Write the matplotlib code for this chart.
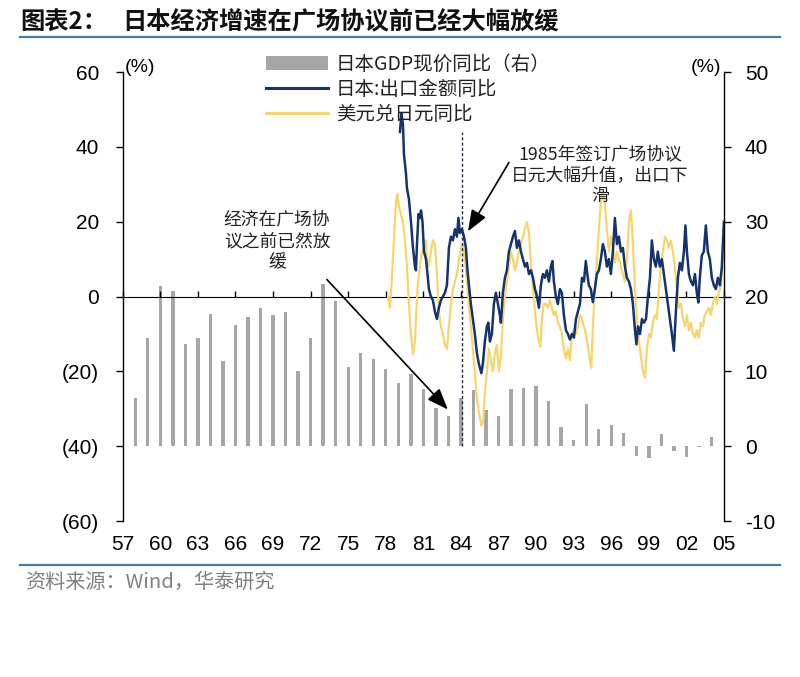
import matplotlib
matplotlib.use('Agg')
import matplotlib.pyplot as plt
from matplotlib.patches import Patch
from matplotlib.lines import Line2D
import matplotlib.ticker as mticker

plt.rcParams['font.family'] = ['Liberation Sans', 'Noto Sans CJK SC', 'DejaVu Sans']
CJK = ['Noto Sans CJK SC', 'DejaVu Sans']

# ---- data ----
gdp_years = list(range(1958, 2005))
gdp_yoy = [6.4, 14.4, 21.4, 20.8, 13.6, 14.5, 17.7, 11.4, 16.2, 17.2,
           18.4, 17.5, 17.9, 10.1, 14.5, 21.7, 19.4, 10.6, 12.4, 11.6,
           10.3, 8.5, 9.7, 7.6, 5.1, 4.1, 6.4, 7.5, 4.8, 4.1,
           7.6, 7.8, 8.0, 6.1, 2.6, 0.8, 5.7, 2.3, 2.8, 1.7,
           -1.3, -1.6, 1.6, -0.7, -1.4, -0.1, 1.2]

export_t = [1979.13, 1979.25, 1979.37, 1979.45, 1979.61, 1979.69, 1979.85, 1980.01, 1980.17, 1980.33,
            1980.41, 1980.49, 1980.61, 1980.73, 1980.81, 1980.93, 1981.05, 1981.21, 1981.33, 1981.44,
            1981.60, 1981.76, 1981.92, 1982.08, 1982.24, 1982.40, 1982.56, 1982.72, 1982.88, 1983.04,
            1983.20, 1983.36, 1983.52, 1983.68, 1983.80, 1983.92, 1984.08, 1984.24, 1984.40, 1984.52,
            1984.64, 1984.79, 1984.95, 1985.11, 1985.27, 1985.43, 1985.63, 1985.75, 1985.91, 1986.07,
            1986.19, 1986.31, 1986.47, 1986.63, 1986.79, 1986.95, 1987.11, 1987.19, 1987.35, 1987.51,
            1987.67, 1987.83, 1987.99, 1988.15, 1988.31, 1988.47, 1988.63, 1988.79, 1988.95, 1989.11,
            1989.27, 1989.43, 1989.59, 1989.75, 1989.91, 1990.07, 1990.23, 1990.38, 1990.54, 1990.70,
            1990.86, 1991.02, 1991.18, 1991.30, 1991.42, 1991.58, 1991.74, 1991.90, 1992.06, 1992.22,
            1992.38, 1992.54, 1992.70, 1992.86, 1993.02, 1993.18, 1993.34, 1993.50, 1993.66, 1993.82,
            1993.97, 1994.09, 1994.21, 1994.37, 1994.53, 1994.69, 1994.85, 1995.01, 1995.17, 1995.33,
            1995.49, 1995.65, 1995.81, 1995.97, 1996.13, 1996.29, 1996.45, 1996.61, 1996.77, 1996.93,
            1997.09, 1997.25, 1997.41, 1997.57, 1997.73, 1997.89, 1998.01, 1998.13, 1998.29, 1998.45,
            1998.61, 1998.77, 1998.93, 1999.09, 1999.24, 1999.40, 1999.56, 1999.72, 1999.88, 2000.04,
            2000.20, 2000.36, 2000.52, 2000.68, 2000.84, 2001.00, 2001.16, 2001.32, 2001.48, 2001.64,
            2001.80, 2001.92, 2002.04, 2002.20, 2002.36, 2002.52, 2002.68, 2002.83, 2002.95, 2003.07,
            2003.23, 2003.39, 2003.55, 2003.71, 2003.87, 2004.03, 2004.19, 2004.35, 2004.51, 2004.67,
            2004.83, 2004.99]
export_yoy = [44, 49, 46, 38, 33, 29, 26, 20, 13, 8,
              7, 14, 22, 21, 23, 20, 12, 10, 6, 2,
              0, -1, -4, -6, -3, -1, 0, 1, 3, 13,
              16, 15, 18, 16, 21, 17, 18, 16, 13, 7,
              3, -2, -6, -10, -15, -18, -20.5, -18, -12, -8,
              -7, -12, -10, -2, 1, -2, -5, -7, 1, 5,
              7, 12, 14, 16, 17.5, 13, 15, 12, 10, 8,
              9, 6, 7, 5, 2, 0, -3, 3, 6, 5,
              7, 4, 8, 9.5, 4, 0, -2, 2, 1, -5,
              -9, -10, -11.5, -10, -11, -6, -4, -2, 5, 4,
              9.5, 6, 3, 2, -1.5, 2, 6, 7, 10, 14,
              12, 8, 10, 6, 12, 21, 14, 16, 12, 13,
              8, 5, 4, 2, -2, -9, -12.8, -8, -10, -6,
              -7, -6, 0, 5, 15, 10, 8, 12, 8, 10,
              6, 2, -2, -6, -10, -14.5, -4, 5, 9, 7,
              12, 19, 12, 6, 4, 3, 6, 1, -1.6, 5,
              11, 12, 19, 12, 10, 5, 3, 2, 5, 3,
              8, 20]

usdjpy_t = [1978.17, 1978.33, 1978.49, 1978.65, 1978.81, 1978.93, 1979.05, 1979.21, 1979.37, 1979.53,
            1979.69, 1979.85, 1980.01, 1980.17, 1980.33, 1980.45, 1980.57, 1980.73, 1980.89, 1981.05,
            1981.17, 1981.29, 1981.44, 1981.60, 1981.76, 1981.92, 1982.08, 1982.24, 1982.40, 1982.56,
            1982.72, 1982.88, 1983.04, 1983.20, 1983.36, 1983.52, 1983.68, 1983.84, 1984.00, 1984.16,
            1984.32, 1984.48, 1984.64, 1984.79, 1984.95, 1985.11, 1985.27, 1985.43, 1985.63, 1985.79,
            1985.91, 1986.07, 1986.23, 1986.39, 1986.55, 1986.71, 1986.87, 1987.03, 1987.19, 1987.35,
            1987.51, 1987.67, 1987.83, 1987.99, 1988.15, 1988.31, 1988.47, 1988.63, 1988.79, 1988.95,
            1989.11, 1989.27, 1989.43, 1989.59, 1989.75, 1989.91, 1990.07, 1990.23, 1990.35, 1990.46,
            1990.62, 1990.78, 1990.94, 1991.10, 1991.26, 1991.42, 1991.58, 1991.74, 1991.90, 1992.06,
            1992.22, 1992.38, 1992.54, 1992.70, 1992.86, 1993.02, 1993.18, 1993.34, 1993.50, 1993.66,
            1993.82, 1993.97, 1994.13, 1994.29, 1994.41, 1994.53, 1994.69, 1994.85, 1995.01, 1995.17,
            1995.33, 1995.49, 1995.65, 1995.81, 1995.97, 1996.13, 1996.29, 1996.45, 1996.61, 1996.77,
            1996.93, 1997.09, 1997.25, 1997.41, 1997.57, 1997.73, 1997.89, 1998.05, 1998.21, 1998.37,
            1998.53, 1998.69, 1998.85, 1999.01, 1999.16, 1999.32, 1999.48, 1999.64, 1999.80, 1999.96,
            2000.12, 2000.28, 2000.44, 2000.60, 2000.76, 2000.92, 2001.08, 2001.24, 2001.40, 2001.56,
            2001.72, 2001.88, 2002.04, 2002.20, 2002.36, 2002.52, 2002.68, 2002.83, 2002.99, 2003.15,
            2003.31, 2003.47, 2003.63, 2003.79, 2003.95, 2004.11, 2004.27, 2004.43, 2004.59, 2004.75,
            2004.91, 2005.00]
usdjpy_yoy = [0, -3, 5, 15, 25, 27.5, 24, 22, 20, 15,
              8, -2, -10, -15.5, -12, -3, 4, 8, 12, 13,
              15, 10, 8, 12, 15, 14, 6, -4, -8, -10,
              -13, -14, -8, -2, 2, 4, 6, 10, 13, 14,
              10, 4, -2, -8, -14, -20, -27, -31, -34.5, -33,
              -26, -20, -14, -17, -20, -15, -13, -20, -16, -6,
              0, 4, 8, 12, 10, 7, 9, 12, 14, 16,
              18, 20, 17, 9, 2, -4, -9, -12, -13.4, -6,
              -2, -2, -3, -1, -3, -5, -4, -7, -8, -10,
              -14, -16.5, -14, -17, -10, -9, -10, -8, -5, -6,
              -8, -10, -13, -17, -19, -8, 2, 9, 18, 25,
              28, 25, 18, 12, 16, 13, 9, 12, 10, 8,
              6, 4, 10, 20, 23, 14, 2, -6, -12, -16,
              -20, -21.7, -14, -10, -11, -7, -5, -6, 2, 8,
              12, 16, 15, 13, 15, 12, 8, 2, -3, -2,
              -6, -8, -5, -9, -7, -10, -11, -9, -11, -7,
              -8, -5, -4, -3, -5, -2, 0, -2, 1, 3,
              10, 14]

x_ticks = list(range(1957, 2006, 3))
x_labels = [f"{y % 100:02d}" for y in x_ticks]
left_ticks = [-60, -40, -20, 0, 20, 40, 60]
right_ticks = [-10, 0, 10, 20, 30, 40, 50]

legend_labels = ['日本GDP现价同比（右）', '日本:出口金额同比', '美元兑日元同比']
title_prefix = '图表2：'
title_main = '日本经济增速在广场协议前已经大幅放缓'
note_left = '经济在广场协\n议之前已然放\n缓'
note_right = '1985年签订广场协议\n日元大幅升值，出口下\n滑'
source = '资料来源：Wind，华泰研究'

C_GDP = '#a6a6a6'
C_EXP = '#15336e'
C_USD = '#f6d56f'
C_RULE = '#4a7aa3'

# ---- figure ----
fig = plt.figure(figsize=(8, 6.77), dpi=100)
ax = fig.add_axes([0.1534, 0.2304, 0.7516, 0.6632])
ax2 = ax.twinx()
ax.set_zorder(ax2.get_zorder() + 1)
ax.patch.set_visible(False)

ax2.bar(gdp_years, gdp_yoy, width=0.27, color=C_GDP, zorder=2)
ax2.set_ylim(-10, 50)

ax.plot(usdjpy_t, usdjpy_yoy, color=C_USD, lw=1.6, zorder=3)
ax.plot(export_t, export_yoy, color=C_EXP, lw=1.8, zorder=4)
ax.set_xlim(1957, 2005)
ax.set_ylim(-60, 60)

# dashed marker line
ax.vlines(1984.08, -40, 44, colors='#2a2a40', linestyles=(0, (2.2, 1.6)), lw=1.0, zorder=5)

# spines
for s in ['top', 'bottom', 'right']:
    ax.spines[s].set_visible(False)
for s in ['top', 'bottom', 'left']:
    ax2.spines[s].set_visible(False)
ax.spines['left'].set_linewidth(1.0)
ax2.spines['right'].set_linewidth(1.0)

# y ticks
ax.set_yticks(left_ticks)
ax.yaxis.set_major_formatter(mticker.FuncFormatter(
    lambda v, p: f"({abs(int(v))})" if v < 0 else f"{int(v)}"))
ax.tick_params(axis='y', direction='out', length=5, width=1, pad=12, labelsize=15)
ax2.set_yticks(right_ticks)
ax2.yaxis.set_major_formatter(mticker.FuncFormatter(lambda v, p: f"{int(v)}"))
ax2.tick_params(axis='y', direction='out', length=5, width=1, pad=10, labelsize=15)

# x labels at bottom, tick marks on zero line
ax.set_xticks(x_ticks, x_labels)
ax.tick_params(axis='x', length=0, pad=10, labelsize=15)
sec = ax.secondary_xaxis(0.5)
sec.set_xticks(x_ticks)
sec.tick_params(axis='x', direction='out', length=4, width=1, labelbottom=False, labeltop=False)
sec.spines['bottom'].set_linewidth(1.0)

# legend
handles = [Patch(facecolor=C_GDP, edgecolor='none'),
           Line2D([], [], color=C_EXP, lw=2.2),
           Line2D([], [], color=C_USD, lw=2.2)]
fig.legend(handles, legend_labels, loc='upper left', bbox_to_anchor=(266 / 800, 1 - 54 / 677),
           frameon=False, prop={'family': CJK, 'size': 14}, handlelength=3.2, handletextpad=0.4,
           labelspacing=0.2, borderpad=0, borderaxespad=0, labelcolor='#222222')

# (%) labels
fig.text(125 / 800, 1 - 68 / 677, '(%)', fontsize=14, ha='left', va='center')
fig.text(721 / 800, 1 - 68 / 677, '(%)', fontsize=14, ha='right', va='center')

# annotations
arrow_kw = dict(arrowstyle='-|>,head_length=0.65,head_width=0.25', color='black', lw=1.2,
                mutation_scale=20, shrinkA=0, shrinkB=0)
ax.annotate('', xy=(1982.96, -30.2), xytext=(1973.30, 4.55), arrowprops=arrow_kw, zorder=6)
ax.annotate('', xy=(1984.56, 17.4), xytext=(1987.83, 35.8), arrowprops=arrow_kw, zorder=6)
ax.text(1969.31, 14.8, note_left, ha='center', va='center', fontsize=12.8,
        linespacing=1.25, family=CJK, color='#222222')
ax.text(1995.09, 32.35, note_right, ha='center', va='center', fontsize=12.8,
        linespacing=1.2, family=CJK, color='#222222')

# title, rules, source
fig.text(20 / 800, 1 - 22 / 677, title_prefix, fontsize=17.5, fontweight='bold',
         family=CJK, ha='left', va='center', color='#111111')
fig.text(122 / 800, 1 - 22 / 677, title_main, fontsize=17.5, fontweight='bold',
         family=CJK, ha='left', va='center', color='#111111')
fig.add_artist(Line2D([20 / 800, 780 / 800], [1 - 37 / 677, 1 - 37 / 677], color=C_RULE, lw=1.6))
fig.add_artist(Line2D([20 / 800, 780 / 800], [1 - 565 / 677, 1 - 565 / 677], color=C_RULE, lw=1.6))
fig.text(25 / 800, 1 - 582 / 677, source, fontsize=14.5, family=CJK, ha='left', va='center',
         color='#808080')

fig.savefig('out.png', dpi=100)
